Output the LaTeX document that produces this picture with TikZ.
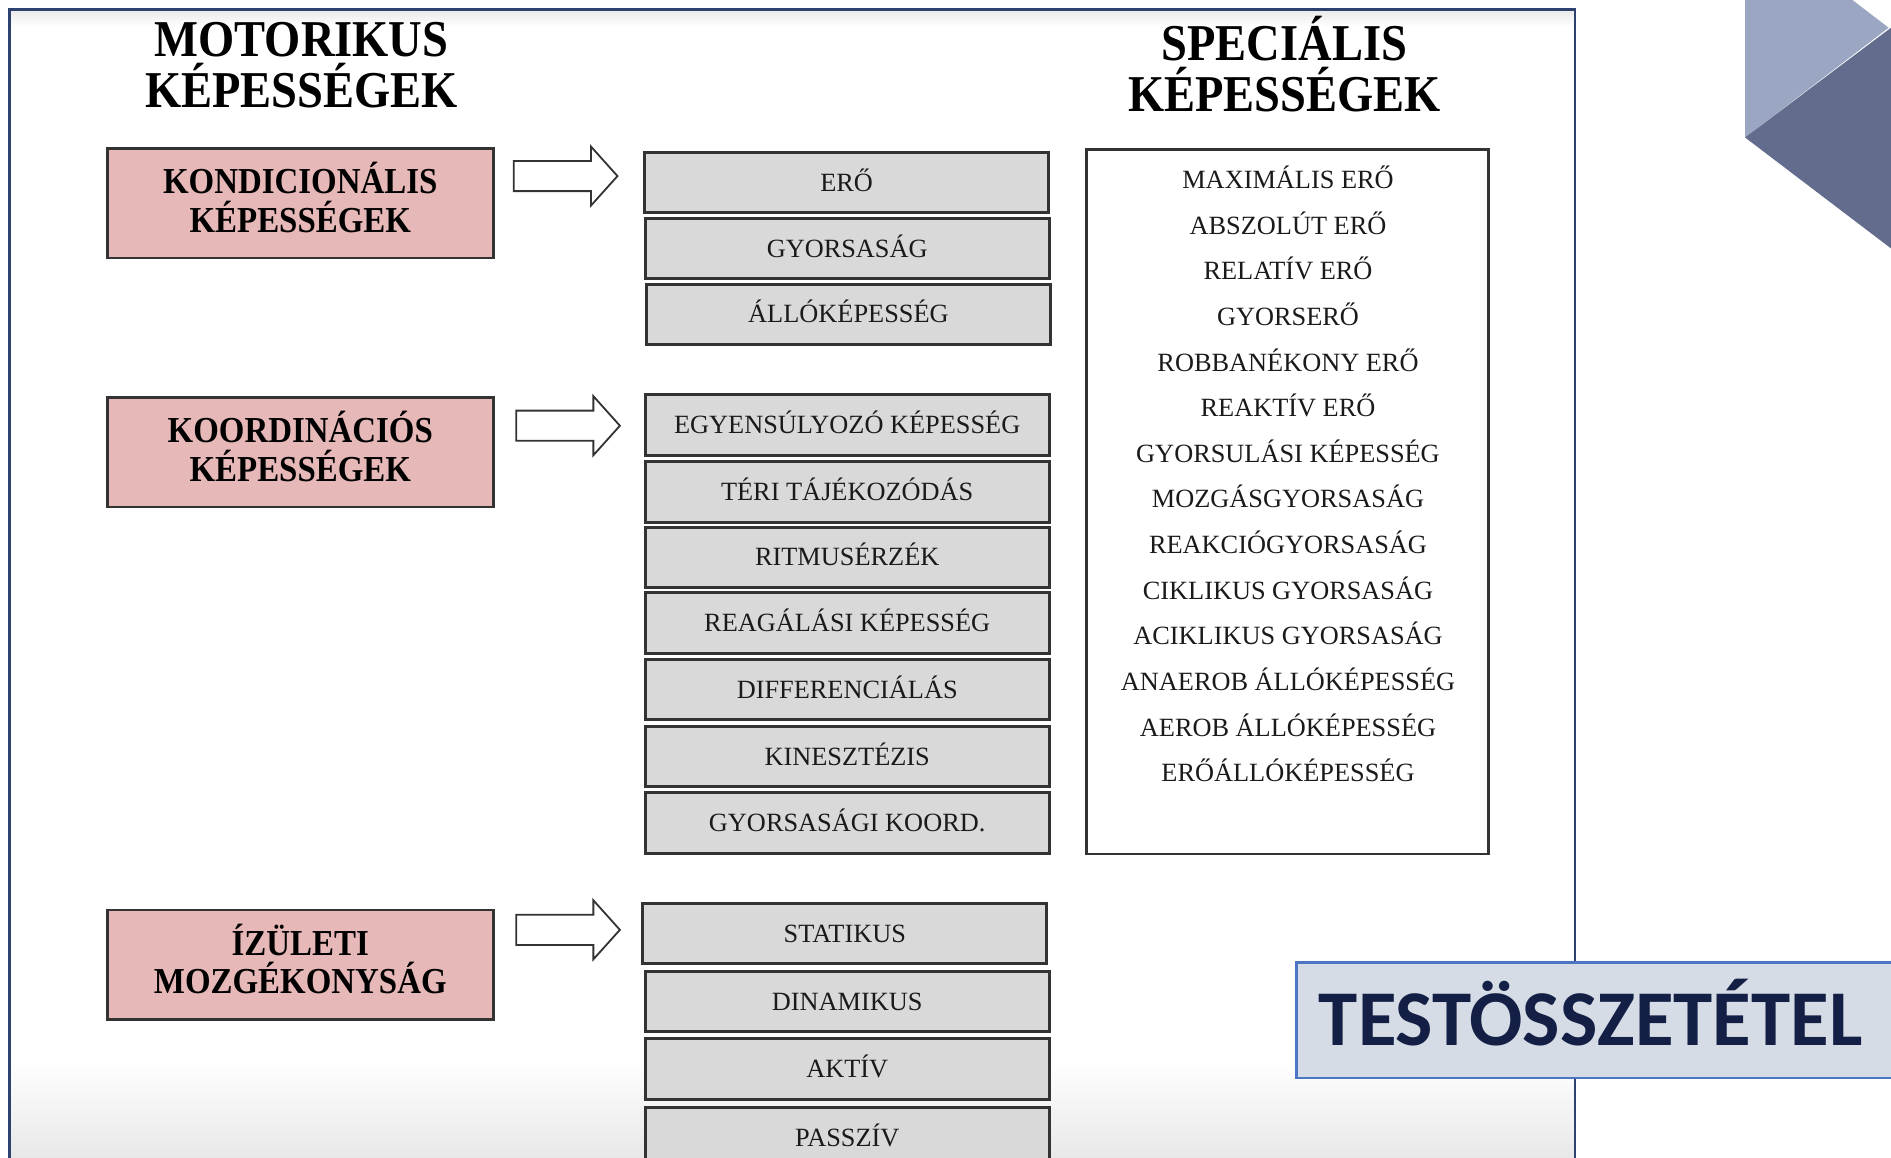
\documentclass[tikz,border=0pt]{standalone}
\usepackage{fontspec}
\setmainfont{Liberation Serif}
\newfontfamily\condserif[FakeStretch=0.9]{Liberation Serif}
\newfontfamily\calib{Carlito}
\usetikzlibrary{calc}
\definecolor{framec}{HTML}{2E4272}
\definecolor{boxline}{HTML}{333333}
\definecolor{pinkfill}{HTML}{E6B8B7}
\definecolor{grayfill}{HTML}{D9D9D9}
\definecolor{textc}{HTML}{1A1A1A}
\definecolor{tril}{HTML}{9BA6C2}
\definecolor{trid}{HTML}{636C8C}
\definecolor{testfill}{HTML}{D6DCE5}
\definecolor{testline}{HTML}{4A76C4}
\definecolor{navy}{HTML}{141F45}
\tikzset{
  heading/.style={align=center, font=\condserif\bfseries\fontsize{25.7}{25.2}\selectfont, inner sep=0pt},
  pinkbox/.style={draw=boxline, line width=1.3pt, fill=pinkfill, minimum width=192pt, minimum height=54.6pt, align=center, inner sep=0pt, text depth=6pt, font=\condserif\bfseries\fontsize{18.2}{19.2}\selectfont},
  graybox/.style={draw=boxline, line width=1.5pt, fill=grayfill, minimum width=201pt, minimum height=30pt, inner sep=0pt, text height=8.7pt, text depth=0pt, text=textc, font=\fontsize{13.1}{15}\selectfont},
  specbox/.style={draw=boxline, line width=1.3pt, fill=white, minimum width=199.8pt, minimum height=350.4pt, inner sep=0pt},
  spectxt/.style={align=center, inner sep=0pt, text=textc, font=\fontsize{13.1}{22.7}\selectfont},
  barrow/.style={draw=boxline, line width=0.9pt, fill=white, line join=miter},
}
\newcommand\blockarr[1]{%
  \draw[barrow] (#1) ++(0,-12.5) -- ++(64,0) -- ++(0,-12) -- ++(22,24.5) -- ++(-22,24.5) -- ++(0,-12) -- ++(-64,0) -- cycle;}
\begin{document}
\begin{tikzpicture}[x=0.6pt,y=-0.6pt]
\clip (0,0) rectangle (1568,960);
\fill[white] (0,0) rectangle (1568,960);
% background shading
\shade[top color=white, bottom color=black!9] (9,880) rectangle (1305,960);
\shade[top color=black!8, bottom color=white] (9,9) rectangle (1305,22);
% decorative triangles
\fill[tril] (1447,0) -- (1536,0) -- (1566,23) -- (1447,114) -- cycle;
\fill[trid] (1447,114) -- (1568,23) -- (1568,206) -- cycle;
% frame
\draw[framec, line width=1.3pt] (8,985) -- (8,8) -- (1306,8) -- (1306,985);
% headings
\node[heading] (motor) at (250,54) {MOTORIKUS\\KÉPESSÉGEK};
\node[heading] (spechead) at (1065,53) {SPECIÁLIS\\KÉPESSÉGEK};
% pink boxes
\node[pinkbox] (kond) at (249,168.5) {KONDICIONÁLIS\\KÉPESSÉGEK};
\node[pinkbox] (koord) at (249,375) {KOORDINÁCIÓS\\KÉPESSÉGEK};
\node[pinkbox] (izul) at (249,800) {ÍZÜLETI\\MOZGÉKONYSÁG};
% arrows
\coordinate (arr1) at (426,146);
\coordinate (arr2) at (428,353);
\coordinate (arr3) at (428,771);
\blockarr{arr1}
\blockarr{arr2}
\blockarr{arr3}
% gray boxes group 1
\node[graybox] (ero) at (702,151.5) {ERŐ};
\node[graybox] (gyors) at (702.5,206) {GYORSASÁG};
\node[graybox] (allo) at (703.5,260.5) {ÁLLÓKÉPESSÉG};
% group 2
\node[graybox] (egyen) at (702.5,352.5) {EGYENSÚLYOZÓ KÉPESSÉG};
\node[graybox] (teri) at (702.5,408) {TÉRI TÁJÉKOZÓDÁS};
\node[graybox] (ritmus) at (702.5,462) {RITMUSÉRZÉK};
\node[graybox] (reag) at (702.5,516.5) {REAGÁLÁSI KÉPESSÉG};
\node[graybox] (diff) at (702.5,572) {DIFFERENCIÁLÁS};
\node[graybox] (kinesz) at (702.5,627.5) {KINESZTÉZIS};
\node[graybox] (gykoord) at (702.5,682.5) {GYORSASÁGI KOORD.};
% group 3
\node[graybox] (stat) at (700.5,774) {STATIKUS};
\node[graybox] (dinam) at (702.5,830.5) {DINAMIKUS};
\node[graybox] (aktiv) at (702.5,886.5) {AKTÍV};
\node[graybox] (passz) at (702.5,943) {PASSZÍV};
% special box
\node[specbox] (spec) at (1067.5,416) {};
\node[spectxt] (spectext) at (1068,393) {MAXIMÁLIS ERŐ\\ABSZOLÚT ERŐ\\RELATÍV ERŐ\\GYORSERŐ\\ROBBANÉKONY ERŐ\\REAKTÍV ERŐ\\GYORSULÁSI KÉPESSÉG\\MOZGÁSGYORSASÁG\\REAKCIÓGYORSASÁG\\CIKLIKUS GYORSASÁG\\ACIKLIKUS GYORSASÁG\\ANAEROB ÁLLÓKÉPESSÉG\\AEROB ÁLLÓKÉPESSÉG\\ERŐÁLLÓKÉPESSÉG};
% testösszetétel
\draw[fill=testfill, draw=testline, line width=1.3pt] (1075,798) rectangle (1600,894);
\node[font=\calib\bfseries\fontsize{39.3}{40}\selectfont, text=navy, inner sep=0pt, text height=25.3pt, text depth=0pt] (test) at (1319,846) {TESTÖSSZETÉTEL};
\end{tikzpicture}
\end{document}
